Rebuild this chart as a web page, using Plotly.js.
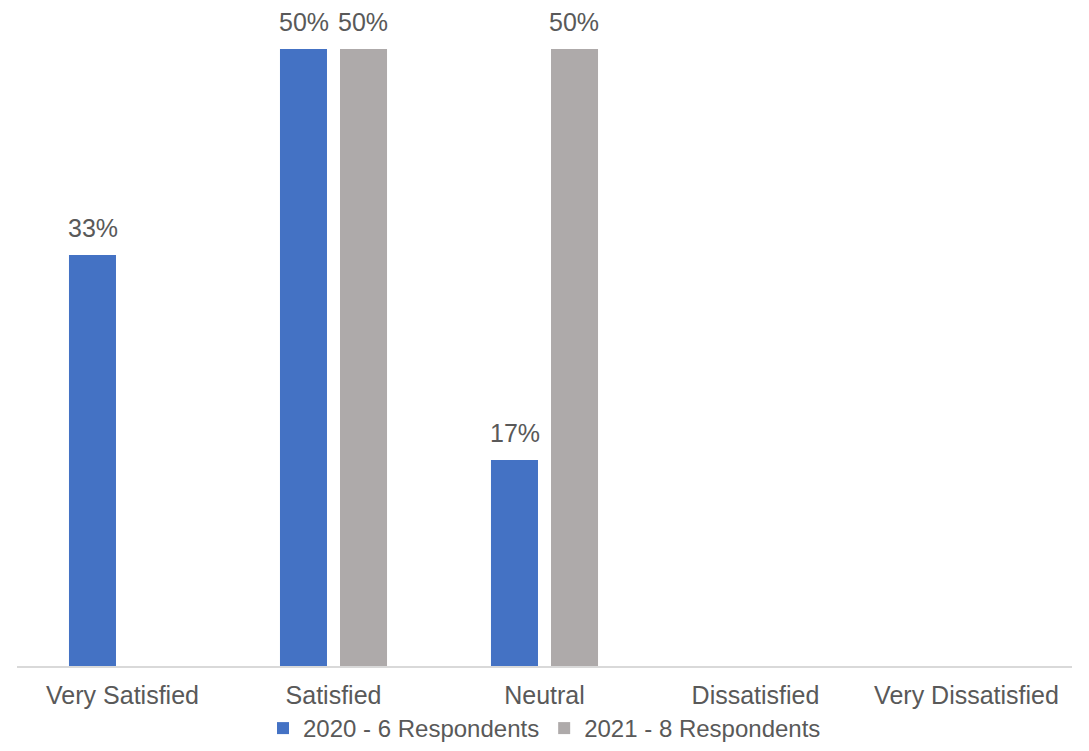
<!DOCTYPE html>
<html>
<head>
<meta charset="utf-8">
<script src="https://cdn.plot.ly/plotly-3.0.1.min.js"></script>
<style>html,body{margin:0;padding:0;background:#fff;}#chart{width:1089px;height:751px;}</style>
</head>
<body>
<div id="chart"></div>
<script>
const categories = ["Very Satisfied", "Satisfied", "Neutral", "Dissatisfied", "Very Dissatisfied"];
const seriesNames = ["2020 - 6 Respondents", "2021 - 8 Respondents"];
const values2020 = [0.333, 0.50, 0.167, 0, 0];
const values2021 = [0, 0.50, 0.50, 0, 0];
const labels2020 = ["33%", "50%", "17%", "", ""];
const labels2021 = ["", "50%", "50%", "", ""];
const colors = ["#4472C4", "#AEAAAA"];

const font = {family: "Liberation Sans, Arial, sans-serif", size: 25, color: "#595959"};
const legendFont = {family: "Liberation Sans, Arial, sans-serif", size: 24, color: "#595959"};

const traces = [
  {type: "bar", name: seriesNames[0], x: categories, y: values2020, marker: {color: colors[0]}, hoverinfo: "none"},
  {type: "bar", name: seriesNames[1], x: categories, y: values2021, marker: {color: colors[1]}, hoverinfo: "none"}
];

const annotations = [];
[[values2020, labels2020, -1], [values2021, labels2021, 1]].forEach(([vals, labs, side]) => {
  vals.forEach((v, i) => {
    if (labs[i]) {
      annotations.push({
        x: i + side * 0.142, xref: "x", y: v, yref: "y",
        text: labs[i], showarrow: false, yanchor: "bottom", xanchor: "center",
        yshift: 11, font: font
      });
    }
  });
});

const layout = {
  width: 1089, height: 751,
  margin: {l: 17, r: 17, t: 49, b: 85},
  paper_bgcolor: "#fff", plot_bgcolor: "#fff",
  font: font,
  barmode: "group",
  bargap: 0.431,
  bargroupgap: 0.217,
  xaxis: {
    type: "category", showline: true, linecolor: "#D9D9D9", linewidth: 1.5,
    ticks: "", showgrid: false, zeroline: false, tickfont: font, automargin: false,
    ticklabelstandoff: 6
  },
  yaxis: {range: [0, 0.5], visible: false, showgrid: false, zeroline: false},
  showlegend: true,
  legend: {
    orientation: "h", x: 0.5, xanchor: "center", xref: "container",
    y: -0.008, yanchor: "bottom", yref: "container",
    font: legendFont, itemwidth: 30, traceorder: "normal"
  },
  annotations: annotations
};

Plotly.newPlot("chart", traces, layout, {staticPlot: true, displayModeBar: false});
</script>
</body>
</html>
